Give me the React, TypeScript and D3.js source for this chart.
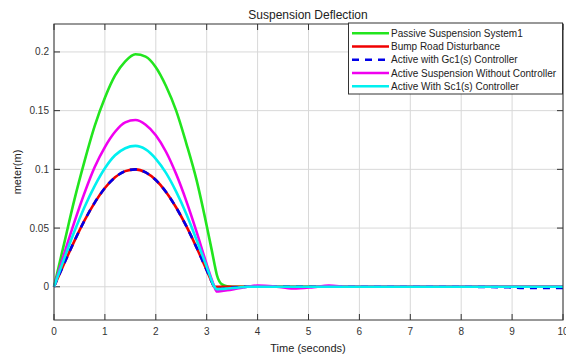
import React from "react";
import * as d3 from "d3";

const T = [0, 0.2, 0.4, 0.6, 0.8, 1.0, 1.2, 1.4, 1.6, 1.8, 2.0, 2.2, 2.4, 2.6, 2.8, 3.0, 3.1, 3.15, 3.2, 3.3, 3.4, 3.6, 3.8, 4.0, 4.3, 4.7, 5.1, 5.4, 5.8, 6.5, 7, 8, 9, 9.2, 9.6, 10];

const passive = [0, 0.037, 0.074, 0.107, 0.137, 0.161, 0.18, 0.192, 0.198, 0.196, 0.187, 0.171, 0.15, 0.122, 0.091, 0.052, 0.031, 0.02, 0.01, 0.002, 0.0005, 0, 0, 0, 0, 0, 0, 0, 0, 0, 0, 0, 0, 0, 0, 0];
const bump = [0, 0.0199, 0.0389, 0.0565, 0.0717, 0.0841, 0.0932, 0.0985, 0.1, 0.0974, 0.0909, 0.0808, 0.0675, 0.0516, 0.0335, 0.0141, 0.0042, 0, 0, 0, 0, 0, 0, 0, 0, 0, 0, 0, 0, 0, 0, 0, 0, 0, 0, 0];
const activeGc = [0, 0.0199, 0.0389, 0.0565, 0.0717, 0.0841, 0.0932, 0.0985, 0.1, 0.0974, 0.0909, 0.0808, 0.0675, 0.0516, 0.0335, 0.0141, 0.0042, 0, -0.002, -0.002, -0.0012, -0.0005, 0, 0, 0, 0, 0, 0, 0, 0, 0, 0, -0.0005, -0.001, -0.001, -0.001];
const noController = [0, 0.028, 0.055, 0.08, 0.102, 0.119, 0.132, 0.14, 0.142, 0.138, 0.129, 0.115, 0.096, 0.073, 0.047, 0.019, 0.006, 0, -0.004, -0.0035, -0.003, -0.0015, 0, 0.001, 0.0005, -0.0015, -0.0003, 0.001, 0, 0, 0, 0, 0, 0, 0, 0];
const activeSc = [0, 0.024, 0.047, 0.068, 0.086, 0.101, 0.112, 0.118, 0.12, 0.117, 0.109, 0.097, 0.081, 0.062, 0.04, 0.017, 0.005, 0, -0.002, -0.0018, -0.0015, -0.0008, 0, 0, 0, 0, 0, 0, 0, 0, 0, 0, 0, 0, 0, 0];

const xTicks = [0, 1, 2, 3, 4, 5, 6, 7, 8, 9, 10];
const yTicks = [0, 0.05, 0.1, 0.15, 0.2];

const seriesNames = [
  "Passive Suspension System1",
  "Bump Road Disturbance",
  "Active with Gc1(s) Controller",
  "Active Suspension Without Controller",
  "Active With Sc1(s) Controller",
];
const seriesData = [passive, bump, activeGc, noController, activeSc];
const seriesColors = ["#22e51e", "#f00000", "#0000e8", "#f000f0", "#00f0f0"];
const seriesDash = [null, null, "7,6", null, null];

export default function App() {
  const W = 566, H = 355;
  const left = 54, right = 563, top = 24, bottom = 320;
  const x = d3.scaleLinear().domain([0, 10]).range([left, right]);
  const y = d3.scaleLinear().domain([-0.0283, 0.2238]).range([bottom, top]);
  const font = "'Liberation Sans', Arial, sans-serif";

  const lines = seriesData.map((vals) =>
    d3
      .line<number>()
      .x((_, i) => x(T[i]))
      .y((v) => y(v))
      .curve(d3.curveMonotoneX)(vals) || ""
  );

  const legX = 348.5, legY = 23, legW = 214, legH = 71;

  return (
    <svg width={W} height={H} style={{ position: "absolute", left: 0, top: 0, background: "#fff" }}>
      <rect x={0} y={0} width={W} height={H} fill="#fff" />
      {xTicks.map((t) => (
        <line key={"gx" + t} x1={x(t)} x2={x(t)} y1={top} y2={bottom} stroke="#d8d8d8" strokeWidth={1} />
      ))}
      {yTicks.map((t) => (
        <line key={"gy" + t} x1={left} x2={right} y1={y(t)} y2={y(t)} stroke="#d8d8d8" strokeWidth={1} />
      ))}
      {xTicks.map((t) => (
        <g key={"tx" + t}>
          <line x1={x(t)} x2={x(t)} y1={bottom} y2={bottom - 6} stroke="#333" />
          <line x1={x(t)} x2={x(t)} y1={top} y2={top + 6} stroke="#333" />
          <text x={x(t)} y={335} fontSize={10} fill="#333" textAnchor="middle" fontFamily={font}>
            {t}
          </text>
        </g>
      ))}
      {yTicks.map((t) => (
        <g key={"ty" + t}>
          <line x1={left} x2={left + 6} y1={y(t)} y2={y(t)} stroke="#333" />
          <line x1={right} x2={right - 6} y1={y(t)} y2={y(t)} stroke="#333" />
          <text x={49} y={y(t) + 3.5} fontSize={10} fill="#333" textAnchor="end" fontFamily={font}>
            {String(t)}
          </text>
        </g>
      ))}
      {lines.map((d, i) => (
        <path
          key={"l" + i}
          d={d}
          fill="none"
          stroke={seriesColors[i]}
          strokeWidth={2.6}
          strokeDasharray={seriesDash[i] || undefined}
          strokeLinejoin="round"
        />
      ))}
      <rect x={left} y={top} width={right - left} height={bottom - top} fill="none" stroke="#333" strokeWidth={1} />
      <text x={308} y={19} fontSize={12} fill="#222" textAnchor="middle" fontFamily={font}>
        Suspension Deflection
      </text>
      <text x={308} y={352} fontSize={11} fill="#222" textAnchor="middle" fontFamily={font}>
        Time (seconds)
      </text>
      <text
        transform={`translate(21,172) rotate(-90)`}
        fontSize={11}
        fill="#222"
        textAnchor="middle"
        fontFamily={font}
      >
        meter(m)
      </text>
      <g>
        <rect x={legX} y={legY} width={legW} height={legH} fill="#fff" stroke="#333" strokeWidth={1} />
        {seriesNames.map((name, i) => {
          const yy = legY + 10.3 + i * 13.25;
          return (
            <g key={"lg" + i}>
              <line
                x1={352}
                x2={389}
                y1={yy}
                y2={yy}
                stroke={seriesColors[i]}
                strokeWidth={2.6}
                strokeDasharray={seriesDash[i] || undefined}
              />
              <text x={391} y={yy + 3.6} fontSize={10} fill="#222" fontFamily={font}>
                {name}
              </text>
            </g>
          );
        })}
      </g>
    </svg>
  );
}
